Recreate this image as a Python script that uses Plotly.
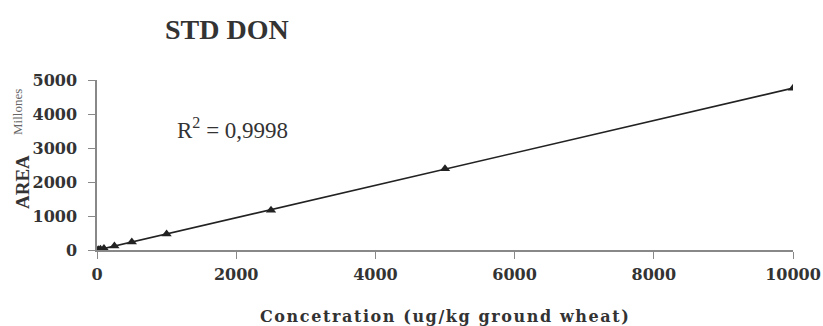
import numpy as np
import plotly.graph_objects as go

# Data
conc = [0, 25, 50, 100, 250, 500, 1000, 2500, 5000, 10000]
area = [0, 11, 22, 45, 115, 235, 470, 1170, 2390, 4760]
x_ticks = [0, 2000, 4000, 6000, 8000, 10000]
x_tick_labels = ["0", "2000", "4000", "6000", "8000", "10000"]
y_ticks = [0, 1000, 2000, 3000, 4000, 5000]
y_tick_labels = ["0", "1000", "2000", "3000", "4000", "5000"]

slope, intercept = np.polyfit(conc, area, 1)
fit_x = [min(conc), max(conc)]
fit_y = [slope * v + intercept for v in fit_x]

serif = "Liberation Serif"
wide = "DejaVu Serif"
ink = "#333"
L, R, T, B = 97, 30, 80, 76
W, H = 823, 326
pw, ph = W - L - R, H - T - B


def px(xpix):
    return (xpix - L) / pw


def py(ypix):
    return (H - B - ypix) / ph


fig = go.Figure()
fig.add_trace(go.Scatter(x=fit_x, y=fit_y, mode="lines",
                         line=dict(color="#222", width=1.6), showlegend=False))
fig.add_trace(go.Scatter(x=conc, y=area, mode="markers",
                         marker=dict(symbol="triangle-up", size=9, color="#222"),
                         showlegend=False))

xtitle = "\u200a".join(list("Concetration (ug/kg ground wheat)"))

axis_common = dict(showgrid=False, zeroline=False, automargin=False,
                   showline=True, linecolor="#888", linewidth=1.5,
                   ticks="outside", ticklen=7, tickcolor="#888",
                   tickfont=dict(family=wide, size=16, color=ink, weight="bold"))

fig.update_layout(
    width=W, height=H,
    margin=dict(l=L, r=R, t=T, b=B),
    paper_bgcolor="white", plot_bgcolor="white",
    font=dict(family=serif, color=ink),
    xaxis=dict(range=[0, 10000], tickvals=x_ticks, ticktext=x_tick_labels,
               ticklabelstandoff=2, **axis_common),
    yaxis=dict(range=[0, 5000], tickvals=y_ticks, ticktext=y_tick_labels,
               ticklabelstandoff=8, **axis_common),
    annotations=[
        dict(text="STD DON", xref="paper", yref="paper", x=px(163), y=py(30),
             xanchor="left", yanchor="middle", showarrow=False,
             font=dict(family=serif, size=28, color=ink, weight="bold")),
        dict(text="R<sup>2</sup> = 0,9998", xref="paper", yref="paper", x=px(175),
             y=py(128), xanchor="left", yanchor="middle", showarrow=False,
             font=dict(family=serif, size=23, color=ink)),
        dict(text="AREA", xref="paper", yref="paper", x=px(22),
             y=py(182), xanchor="center", yanchor="middle", showarrow=False,
             textangle=-90, font=dict(family=serif, size=19, color=ink, weight="bold")),
        dict(text="Millones", xref="paper", yref="paper", x=px(17),
             y=py(112), xanchor="center", yanchor="middle", showarrow=False,
             textangle=-90, font=dict(family=serif, size=13, color="#666")),
        dict(text=xtitle, xref="paper", yref="paper", x=px(444),
             y=py(316), xanchor="center", yanchor="middle", showarrow=False,
             font=dict(family=wide, size=16, color=ink, weight="bold")),
    ],
)

fig.write_html("out.html", config={"displayModeBar": False},
               post_script="document.body.style.margin='0';")
